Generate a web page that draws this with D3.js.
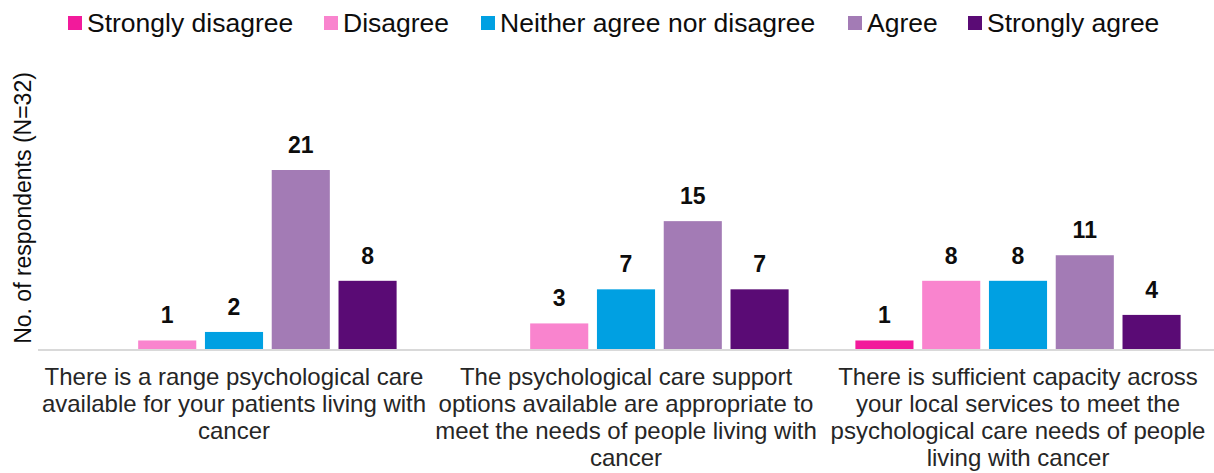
<!DOCTYPE html>
<html>
<head>
<meta charset="utf-8">
<script src="https://cdn.jsdelivr.net/npm/d3@7"></script>
<style>
  body { margin: 0; background: #fff; }
  text { font-family: "Liberation Sans", Arial, sans-serif; }
</style>
</head>
<body>
<script>
// chart data
var categories = [
  ["There is a range psychological care", "available for your patients living with", "cancer"],
  ["The psychological care support", "options available are appropriate to", "meet the needs of people living with", "cancer"],
  ["There is sufficient capacity across", "your local services to meet the", "psychological care needs of people", "living with cancer"]
];
var series = ["Strongly disagree", "Disagree", "Neither agree nor disagree", "Agree", "Strongly agree"];
var colors = ["#F21A9B", "#F984CE", "#00A0E2", "#A37BB5", "#5A0B75"];
var stronglyDisagree = [0, 0, 1];
var disagree = [1, 3, 8];
var neither = [2, 7, 8];
var agree = [21, 15, 11];
var stronglyAgree = [8, 7, 4];
var yLabel = "No. of respondents (N=32)";

var values = [stronglyDisagree, disagree, neither, agree, stronglyAgree];

var width = 1214, height = 473;
var margin = {top: 0, right: 0, bottom: 124, left: 38};
var baseY = height - margin.bottom;  // 349

var svg = d3.select("body").append("svg")
    .attr("width", width)
    .attr("height", height);

// scales
var x0 = d3.scaleBand()
    .domain(d3.range(categories.length))
    .range([margin.left, width - margin.right]);

var x1 = d3.scaleBand()
    .domain(series)
    .range([0, x0.bandwidth()])
    .paddingInner(0.13)
    .paddingOuter(0.5);

var y = d3.scaleLinear()
    .domain([0, 21])
    .range([baseY, 170]);

// flatten data
var data = [];
categories.forEach(function(c, i) {
  series.forEach(function(s, j) {
    data.push({cat: i, series: s, color: colors[j], value: values[j][i]});
  });
});

// bars
svg.selectAll(".bar")
  .data(data.filter(function(d) { return d.value > 0; }))
  .enter().append("rect")
    .attr("class", "bar")
    .attr("x", function(d) { return x0(d.cat) + x1(d.series); })
    .attr("width", x1.bandwidth())
    .attr("y", function(d) { return y(d.value); })
    .attr("height", function(d) { return baseY - y(d.value); })
    .style("fill", function(d) { return d.color; });

// value labels
svg.selectAll(".lbl")
  .data(data.filter(function(d) { return d.value > 0; }))
  .enter().append("text")
    .attr("class", "lbl")
    .attr("x", function(d) { return x0(d.cat) + x1(d.series) + x1.bandwidth() / 2; })
    .attr("y", function(d) { return y(d.value) - 17; })
    .attr("text-anchor", "middle")
    .style("font-size", "23px")
    .style("font-weight", "bold")
    .style("fill", "#0d0d0d")
    .text(function(d) { return d.value; });

// x axis line
svg.append("line")
    .attr("x1", margin.left).attr("x2", width)
    .attr("y1", baseY + 1).attr("y2", baseY + 1)
    .style("stroke", "#d9d9d9")
    .style("stroke-width", 2);

// category labels
var catLabels = svg.selectAll(".cat")
  .data(categories)
  .enter().append("text")
    .attr("class", "cat")
    .attr("text-anchor", "middle")
    .style("font-size", "24px")
    .style("fill", "#262626");

catLabels.selectAll("tspan")
  .data(function(d, i) { return d.map(function(t) { return {t: t, i: i}; }); })
  .enter().append("tspan")
    .attr("x", function(d) { return x0(d.i) + x0.bandwidth() / 2; })
    .attr("y", function(d, k) { return 385 + k * 27; })
    .text(function(d) { return d.t; });

// y axis title
svg.append("text")
    .attr("transform", "translate(31,208) rotate(-90)")
    .attr("text-anchor", "middle")
    .style("font-size", "23px")
    .style("fill", "#0d0d0d")
    .text(yLabel);

// legend
var legendX = [68, 324, 481, 848, 968];
var legend = svg.selectAll(".legend")
  .data(series)
  .enter().append("g")
    .attr("class", "legend")
    .attr("transform", function(d, i) { return "translate(" + legendX[i] + ",0)"; });

legend.append("rect")
    .attr("y", 16)
    .attr("width", 14)
    .attr("height", 14)
    .style("fill", function(d, i) { return colors[i]; });

legend.append("text")
    .attr("x", 19)
    .attr("y", 32)
    .style("font-size", "26.5px")
    .style("fill", "#0d0d0d")
    .text(function(d) { return d; });
</script>
</body>
</html>
